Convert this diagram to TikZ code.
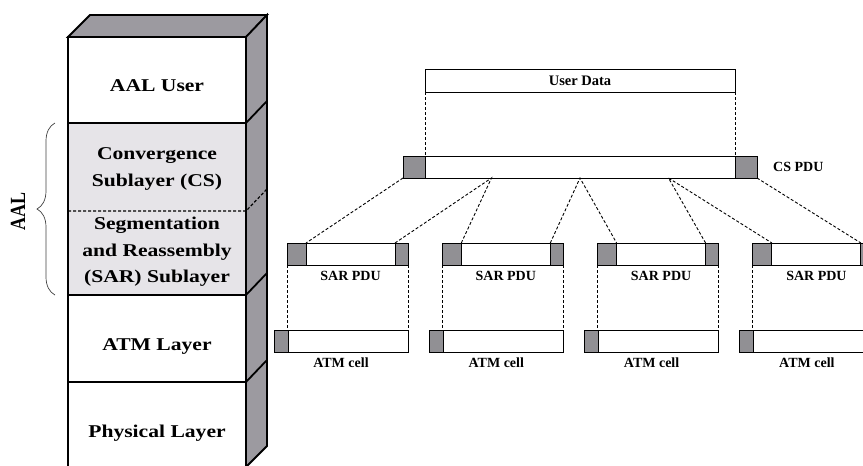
\documentclass[tikz,border=0pt]{standalone}
\usepackage{fontspec}
\setmainfont{Liberation Serif}
\usetikzlibrary{positioning,calc,decorations.pathreplacing}
\definecolor{facegray}{RGB}{156,154,160}
\definecolor{hdrgray}{RGB}{145,144,148}
\definecolor{sublayerbg}{RGB}{230,228,232}

\begin{document}
\begin{tikzpicture}[x=1pt,y=-1pt,
  stackline/.style={line width=1.8pt,line join=miter},
  biglabel/.style={font=\fontsize{18}{26.5}\selectfont\bfseries,align=center,inner sep=0pt,xscale=1.2},
  smalllabel/.style={font=\fontsize{14}{16}\selectfont\bfseries,inner sep=0pt},
  pdubox/.style={draw,line width=1pt,minimum height=22pt,inner sep=0pt,outer sep=0pt,anchor=north west},
  hdr/.style={pdubox,fill=hdrgray},
  payload/.style={pdubox,fill=white},
  guide/.style={dash pattern=on 3pt off 2pt,line width=0.9pt}]
\useasboundingbox (0,0) rectangle (863,466);
\clip (0,0) rectangle (863,466);

% protocol stack
\fill[sublayerbg] (68,123) rectangle (246,295);
\filldraw[stackline,fill=facegray] (68,37) -- (90,15) -- (267,15) -- (246,37) -- cycle;
\filldraw[stackline,fill=facegray] (246,37) -- (267,15) -- (267,446) -- (246,467) -- cycle;
\draw[stackline] (68,37) rectangle (246,467);
\foreach \ly in {123,295,382}
  \draw[stackline] (68,\ly) -- (246,\ly) -- (267,\ly-22);
\draw[line width=1.2pt,dash pattern=on 3pt off 2pt] (68,211) -- (246,211) -- (267,189);

\node[biglabel] (user) at (157,86) {AAL User};
\node[biglabel] (cs) at (157,169) {Convergence\\Sublayer (CS)};
\node[biglabel] (sar) at (157,252) {Segmentation\\and Reassembly\\(SAR) Sublayer};
\node[biglabel] (atm) at (157,346) {ATM Layer};
\node[biglabel] (phy) at (157,433) {Physical Layer};

\draw[line width=0.7pt,black!75,decorate,decoration={brace,amplitude=18pt}] (55,295) -- (55,123);
\node[biglabel,xscale=1/1.2,rotate=90,yscale=1.2] (aal) at (18,211) {AAL};

% user data and CS PDU
\node[payload,minimum width=310pt,minimum height=23pt,font=\fontsize{14.5}{16}\selectfont\bfseries] (ud) at (425,69) {User Data};
\node[hdr,minimum width=22pt] (cshdr) at (403,156) {};
\node[payload,right=0pt of cshdr,minimum width=310pt] (cspdu) {};
\node[hdr,right=0pt of cspdu,minimum width=22pt] (cstrl) {};
\node[smalllabel,right=16pt of cstrl] (cslabel) {CS PDU};
\draw[guide] (ud.south west) -- (cspdu.north west);
\draw[guide] (ud.south east) -- (cspdu.north east);

% SAR PDUs and ATM cells
\foreach \i [evaluate=\i as \sx using 287+155.3*(\i-1)] in {1,...,4} {
  \node[hdr,minimum width=19pt] (sarh\i) at (\sx,243) {};
  \node[payload,right=0pt of sarh\i,minimum width=89pt] (sarp\i) {};
  \node[hdr,right=0pt of sarp\i,minimum width=13pt] (sart\i) {};
  \node[smalllabel,below=6pt of sarp\i] (sarl\i) {SAR PDU};
  \node[hdr,minimum width=14pt] (atmh\i) at (\sx-13,330) {};
  \node[payload,right=0pt of atmh\i,minimum width=120pt] (atmp\i) {};
  \node[smalllabel,anchor=north] (atml\i) at ($(atmh\i.south west)!0.5!(atmp\i.south east)+(0,6)$) {ATM cell};
  \draw[guide] (sarh\i.south west) -- (sarh\i.south west |- atmp\i.north);
  \draw[guide] (sart\i.south east) -- (sart\i.south east |- atmp\i.north);
}

\foreach \k in {0,...,4}
  \coordinate (cs\k) at ($(cshdr.south west)!\k/4!(cstrl.south east)$);
\draw[guide] (cs0) -- (sarp1.north west);
\foreach \k [count=\j from 2] in {1,2,3}
  \draw[guide] (sart\k.north west) -- (cs\k) -- (sarp\j.north west);
\draw[guide] (cs4) -- (sart4.north west);
\end{tikzpicture}
\end{document}
